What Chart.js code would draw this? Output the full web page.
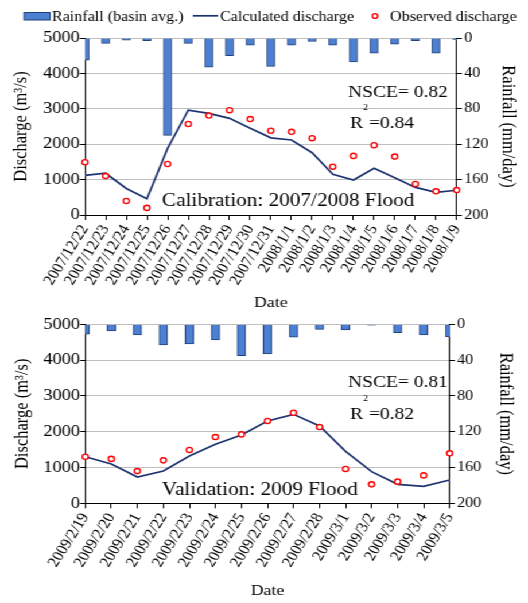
<!DOCTYPE html>
<html>
<head>
<meta charset="utf-8">
<script src="https://cdn.jsdelivr.net/npm/chart.js@4/dist/chart.umd.min.js"></script>
<style>
  html, body { margin: 0; padding: 0; background: #fff; }
  /* the reference is a horizontally stretched figure, so draw narrow and stretch */
  #page { position: relative; width: 460px; height: 603px; transform: scaleX(1.1478); transform-origin: 0 0; }
  #calChart { position: absolute; left: 0; top: 0; }
  #valChart { position: absolute; left: 0; top: 310px; }
</style>
</head>
<body>
<div id="page">
  <canvas id="calChart" width="460" height="315"></canvas>
  <canvas id="valChart" width="460" height="293"></canvas>
</div>
<script>
// Calibration: 2007/2008 flood
const calDates = ['2007/12/22', '2007/12/23', '2007/12/24', '2007/12/25', '2007/12/26', '2007/12/27',
  '2007/12/28', '2007/12/29', '2007/12/30', '2007/12/31', '2008/1/1', '2008/1/2', '2008/1/3',
  '2008/1/4', '2008/1/5', '2008/1/6', '2008/1/7', '2008/1/8', '2008/1/9']
const calRain = [25, 6, 2.5, 3, 110, 6, 33, 20, 8, 32, 8, 4, 8, 27, 17, 7, 3, 17, 1.5]
const calSim = [1120, 1180, 750, 460, 1880, 2960, 2870, 2730, 2450, 2180, 2120, 1760, 1150, 990, 1320, 1050, 780, 640, 700]
const calObs = [1490, 1100, 395, 200, 1440, 2570, 2810, 2960, 2710, 2380, 2350, 2170, 1365, 1670, 1970, 1650, 875, 670, 705]

// Validation: 2009 flood
const valDates = ['2009/2/19', '2009/2/20', '2009/2/21', '2009/2/22', '2009/2/23', '2009/2/24', '2009/2/25',
  '2009/2/26', '2009/2/27', '2009/2/28', '2009/3/1', '2009/3/2', '2009/3/3', '2009/3/4', '2009/3/5']
const valRain = [11, 7.5, 12, 23, 22, 17.5, 35, 33, 14.5, 5.6, 6.4, 1, 9.4, 12, 14]
const valSim = [1300, 1100, 735, 900, 1320, 1650, 1910, 2300, 2485, 2160, 1450, 885, 530, 475, 650]
const valObs = [1300, 1240, 900, 1200, 1490, 1850, 1925, 2300, 2530, 2130, 960, 530, 605, 780, 1395]

const rainName = 'Rainfall (basin avg.)'
const simName = 'Calculated discharge'
const obsName = 'Observed discharge'

const SERIF = '"Liberation Serif", "Times New Roman", serif'
const BAR_FILL = '#4b80d2'
const BAR_EDGE = '#213f78'
const LINE_COLOR = '#1d3370'
const OBS_COLOR = '#ff0000'

Chart.defaults.font.family = SERIF
Chart.defaults.color = '#000'

// stats text and flood title drawn inside the plot area
const notesPlugin = {
  id: 'notes',
  afterDatasetsDraw(chart, args, opts) {
    const ctx = chart.ctx
    ctx.save()
    ctx.fillStyle = '#000'
    ctx.textAlign = 'left'
    ctx.textBaseline = 'alphabetic'
    ctx.font = '17px ' + SERIF
    ctx.fillText(opts.nsce, opts.x, opts.nsceY)
    ctx.fillText('R', opts.x + 1.8, opts.rY)
    ctx.fillText(opts.r2, opts.x + 18.3, opts.rY)
    ctx.font = '9px ' + SERIF
    ctx.fillText('2', opts.x + 13.1, opts.supY)
    ctx.font = '18.5px ' + SERIF
    ctx.fillText(opts.title, opts.titleX, opts.titleY)
    ctx.restore()
  }
}

// one shared legend row above the first chart
const legendPlugin = {
  id: 'refLegend',
  afterDraw(chart) {
    const ctx = chart.ctx
    ctx.save()
    ctx.font = '14px ' + SERIF
    ctx.textBaseline = 'alphabetic'

    ctx.fillStyle = BAR_FILL
    ctx.fillRect(21, 12.5, 22.6, 7.5)
    ctx.strokeStyle = BAR_EDGE
    ctx.lineWidth = 1
    ctx.strokeRect(21, 12.5, 22.6, 7.5)
    ctx.fillStyle = '#000'
    ctx.fillText(rainName, 45.3, 21)

    ctx.strokeStyle = LINE_COLOR
    ctx.lineWidth = 1.7
    ctx.beginPath()
    ctx.moveTo(168, 15.8)
    ctx.lineTo(190, 15.8)
    ctx.stroke()
    ctx.fillText(simName, 191.7, 21)

    ctx.strokeStyle = OBS_COLOR
    ctx.lineWidth = 1.4
    ctx.beginPath()
    ctx.arc(326.7, 16, 2.4, 0, Math.PI * 2)
    ctx.stroke()
    ctx.fillText(obsName, 339.8, 21)
    ctx.restore()
  }
}

function makeChart(id, labels, rain, sim, obs, layout, notes, extraPlugins) {
  const ctx = document.getElementById(id).getContext('2d')
  return new Chart(ctx, {
    type: 'bar',
    data: {
      labels: labels,
      datasets: [
        {
          type: 'line',
          label: simName,
          data: sim,
          yAxisID: 'y',
          borderColor: LINE_COLOR,
          borderWidth: 1.7,
          pointRadius: 0,
          tension: 0,
          order: 2
        },
        {
          type: 'line',
          label: obsName,
          data: obs,
          yAxisID: 'y',
          showLine: false,
          pointRadius: 2.6,
          pointBorderColor: OBS_COLOR,
          pointBackgroundColor: '#fff',
          pointBorderWidth: 1.4,
          clip: false,
          order: 1
        },
        {
          type: 'bar',
          label: rainName,
          data: rain,
          yAxisID: 'y1',
          backgroundColor: BAR_FILL,
          borderColor: BAR_EDGE,
          borderWidth: 1,
          barThickness: layout.barWidth,
          clip: 0,
          order: 3
        }
      ]
    },
    options: {
      responsive: false,
      animation: false,
      layout: { padding: { top: layout.top, left: 0, right: 0, bottom: 0 } },
      plugins: {
        legend: { display: false },
        tooltip: { enabled: false },
        notes: notes
      },
      scales: {
        x: {
          type: 'category',
          offset: false,
          grid: { offset: false, drawOnChartArea: false, tickColor: '#000', tickLength: 5 },
          border: { color: '#000', width: 1 },
          ticks: { autoSkip: false, minRotation: 61, maxRotation: 61, padding: 2, font: { size: 14.5 } },
          title: { display: true, text: 'Date', font: { size: 15.5 }, padding: { top: 0, bottom: 3 } },
          afterFit: s => { s.height = layout.xHeight }
        },
        y: {
          position: 'left',
          min: 0,
          max: 5000,
          ticks: { stepSize: 1000, padding: 0, font: { size: 16 }, callback: v => String(v) },
          grid: {
            color: c => (c.tick && c.tick.value === 0 ? '#000' : '#bfbfbf'),
            tickColor: '#000',
            tickLength: 4.5
          },
          border: { color: '#000', width: 1 },
          title: { display: true, text: 'Discharge (m³/s)', font: { size: 16.5 }, padding: { top: layout.leftPad, bottom: 0 } },
          afterFit: s => { s.width = layout.leftW }
        },
        y1: {
          position: 'right',
          reverse: true,
          min: 0,
          max: 200,
          ticks: { stepSize: 40, padding: 2, font: { size: 14 }, callback: v => String(v) },
          grid: { drawOnChartArea: false, tickColor: '#000', tickLength: 4.5 },
          border: { color: '#000', width: 1 },
          title: { display: true, text: 'Rainfall (mm/day)', font: { size: 16.5 }, padding: { top: layout.rightPad, bottom: 0 } },
          afterFit: s => { s.width = layout.rightW }
        }
      }
    },
    plugins: [notesPlugin].concat(extraPlugins)
  })
}

makeChart('calChart', calDates, calRain, calSim, calObs,
  { top: 38, xHeight: 100, leftW: 74.05, rightW: 62.1, leftPad: 8.4, rightPad: 7.5, barWidth: 7 },
  { nsce: 'NSCE= 0.82', r2: '=0.84', title: 'Calibration: 2007/2008 Flood',
    x: 303.2, nsceY: 97, rY: 128, supY: 110, titleX: 141.1, titleY: 206 },
  [legendPlugin])

makeChart('valChart', valDates, valRain, valSim, valObs,
  { top: 14.3, xHeight: 99.7, leftW: 74.3, rightW: 68.2, leftPad: 10, rightPad: 10, barWidth: 7.4 },
  { nsce: 'NSCE= 0.81', r2: '=0.82', title: 'Validation: 2009 Flood',
    x: 303.2, nsceY: 77, rY: 109, supY: 90.5, titleX: 141.1, titleY: 185 },
  [])
</script>
</body>
</html>
